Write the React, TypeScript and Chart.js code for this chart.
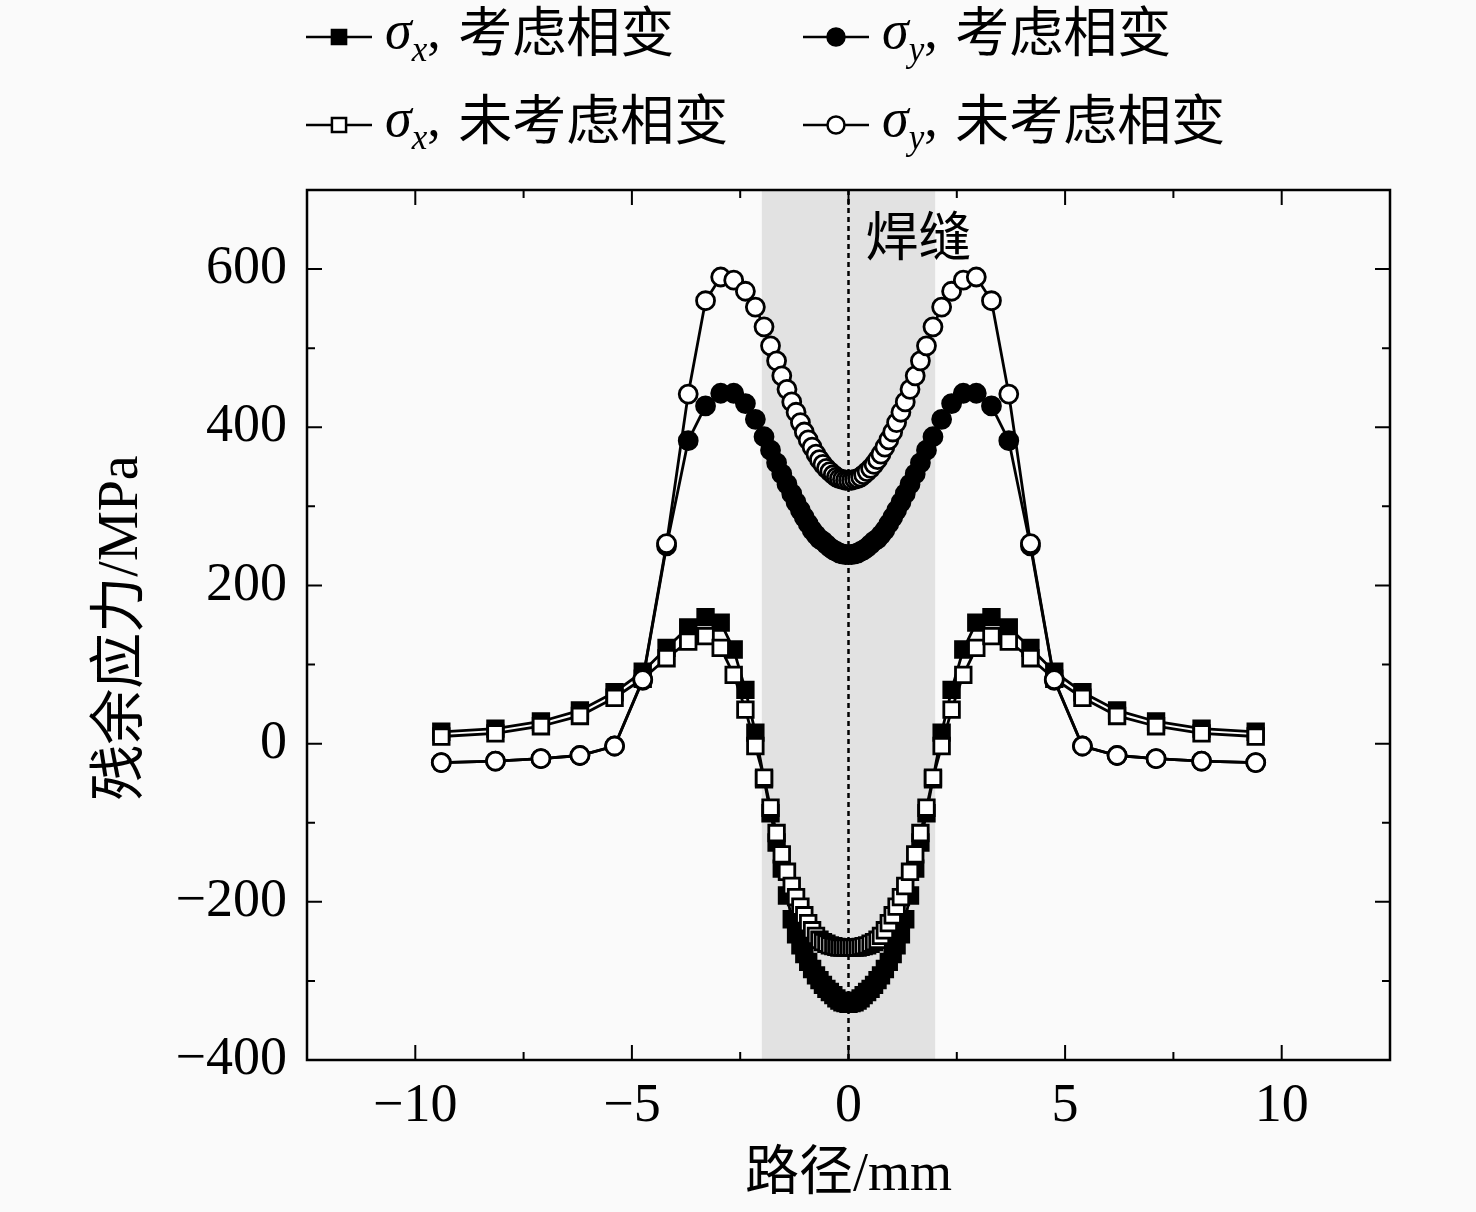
import { useEffect, useRef } from 'react';
import { Chart, registerables } from 'chart.js';

Chart.register(...registerables);

// ---- data ----
const pathMm = [
  -9.4, -8.15, -7.1, -6.2, -5.4, -4.75, -4.2, -3.7, -3.3, -2.95, -2.65, -2.38, -2.15, -1.95, -1.8, -1.66, -1.54,
  -1.42, -1.31, -1.21, -1.11, -1.02, -0.93, -0.84, -0.75, -0.67, -0.59, -0.51, -0.43, -0.35, -0.28, -0.21, -0.14,
  -0.07, 0, 0.07, 0.14, 0.21, 0.28, 0.35, 0.43, 0.51, 0.59, 0.67, 0.75, 0.84, 0.93, 1.02, 1.11, 1.21, 1.31, 1.42,
  1.54, 1.66, 1.8, 1.95, 2.15, 2.38, 2.65, 2.95, 3.3, 3.7, 4.2, 4.75, 5.4, 6.2, 7.1, 8.15, 9.4,
];

const sigmaXWithPT = [
  15, 19, 28, 42, 65, 91, 121, 147, 160, 153, 119, 68, 14, -45, -88, -125, -158,
  -192, -222, -241, -255, -266, -276, -285, -293, -299, -305, -310, -314, -318, -322, -325, -327,
  -328, -329, -328, -327, -325, -322, -318, -314, -310, -305, -299, -293, -285, -276, -266, -255, -241, -222, -192,
  -158, -125, -88, -45, 14, 68, 119, 153, 160, 147, 121, 91, 65, 42, 28, 19, 15,
];

const sigmaYWithPT = [
  -24, -22, -19, -15, -3, 80, 250, 383, 427, 443, 443, 430, 410, 388, 371, 355, 341,
  328, 316, 305, 295, 286, 278, 270, 264, 259, 256, 252, 248, 245, 243, 241, 240,
  239, 239, 239, 240, 241, 243, 245, 248, 252, 256, 259, 264, 270, 278, 286, 295, 305, 316, 328,
  341, 355, 371, 388, 410, 430, 443, 443, 427, 383, 250, 80, -3, -15, -19, -22, -24,
];

const sigmaXNoPT = [
  9, 13, 22, 35, 58, 82, 108, 129, 136, 121, 87, 43, -3, -43, -81, -113, -140,
  -162, -180, -194, -206, -217, -227, -236, -243, -248, -251, -253, -255, -256, -257, -258, -258,
  -258, -258, -258, -258, -258, -257, -256, -255, -253, -251, -248, -243, -236, -227, -217, -206, -194, -180, -162,
  -140, -113, -81, -43, -3, 43, 87, 121, 136, 129, 108, 82, 58, 35, 22, 13, 9,
];

const sigmaYNoPT = [
  -24, -22, -19, -15, -3, 81, 253, 442, 560, 590, 586, 572, 552, 527, 503, 484, 465,
  448, 432, 419, 406, 394, 384, 375, 366, 359, 353, 348, 344, 340, 337, 335, 334,
  333, 333, 333, 334, 335, 337, 340, 344, 348, 353, 359, 366, 375, 384, 394, 406, 419, 432, 448,
  465, 484, 503, 527, 552, 572, 586, 590, 560, 442, 253, 81, -3, -15, -19, -22, -24,
];

const xTickValues = [-10, -5, 0, 5, 10];
const xMinorTickValues = [-7.5, -2.5, 2.5, 7.5];
const yTickValues = [-400, -200, 0, 200, 400, 600];
const yMinorTickValues = [-300, -100, 100, 300, 500];
const weldZone = [-2, 2];
const weldCenter = 0;
const weldLabel = '焊缝';
const xTitle = '路径/mm';
const yTitle = '残余应力/MPa';

const seriesSub = ['x', 'y', 'x', 'y'];
const seriesText = ['考虑相变', '考虑相变', '未考虑相变', '未考虑相变'];

// ---- styles / layout ----
const W = 1476;
const H = 1212;
const SERIF = '"Liberation Serif", "Times New Roman", "Noto Sans CJK SC", serif';
const CJK = '"Noto Sans CJK SC", "Liberation Serif", sans-serif';
const SQ_R = 11;
const CI_R = 9;
const LINE_W = 2.8;

const toPoints = (ys: number[]) => pathMm.map((x, i) => ({ x, y: ys[i] }));
const fmt = (v: number) => String(v).replace('-', '\u2212');

function drawMarker(ctx: CanvasRenderingContext2D, cx: number, cy: number, style: string, filled: boolean) {
  ctx.save();
  ctx.lineWidth = 2.5;
  ctx.strokeStyle = '#000';
  ctx.fillStyle = filled ? '#000' : '#fff';
  ctx.beginPath();
  if (style === 'rect') {
    const s = Math.SQRT1_2 * 10;
    ctx.rect(cx - s, cy - s, 2 * s, 2 * s);
  } else {
    ctx.arc(cx, cy, 8.5, 0, Math.PI * 2);
  }
  ctx.fill();
  ctx.stroke();
  ctx.restore();
}

const decorPlugin = {
  id: 'decor',
  beforeDraw(chart: any) {
    const { ctx } = chart;
    ctx.save();
    ctx.fillStyle = '#fafafa';
    ctx.fillRect(0, 0, chart.width, chart.height);
    ctx.restore();
  },
  beforeDatasetsDraw(chart: any) {
    const { ctx, chartArea: a, scales } = chart;
    const x = scales.x;
    ctx.save();
    const x0 = x.getPixelForValue(weldZone[0]);
    const x1 = x.getPixelForValue(weldZone[1]);
    ctx.fillStyle = '#e2e2e2';
    ctx.fillRect(x0, a.top, x1 - x0, a.bottom - a.top);
    const xc = x.getPixelForValue(weldCenter);
    ctx.setLineDash([5, 4]);
    ctx.lineWidth = 2.5;
    ctx.strokeStyle = '#000';
    ctx.beginPath();
    ctx.moveTo(xc, a.top);
    ctx.lineTo(xc, a.bottom);
    ctx.stroke();
    ctx.setLineDash([]);
    ctx.fillStyle = '#000';
    ctx.font = `53px ${CJK}`;
    ctx.textAlign = 'left';
    ctx.textBaseline = 'middle';
    ctx.fillText(weldLabel, xc + 17, a.top + 46);
    ctx.restore();
  },
  afterDraw(chart: any) {
    const { ctx, chartArea: a, scales } = chart;
    const x = scales.x;
    const y = scales.y;
    ctx.save();
    ctx.strokeStyle = '#000';
    ctx.lineWidth = 2.5;
    ctx.strokeRect(a.left, a.top, a.right - a.left, a.bottom - a.top);
    ctx.lineWidth = 2;
    const vt = (v: number, len: number) => {
      const px = x.getPixelForValue(v);
      ctx.beginPath();
      ctx.moveTo(px, a.bottom);
      ctx.lineTo(px, a.bottom - len);
      ctx.moveTo(px, a.top);
      ctx.lineTo(px, a.top + len);
      ctx.stroke();
    };
    const ht = (v: number, len: number) => {
      const py = y.getPixelForValue(v);
      ctx.beginPath();
      ctx.moveTo(a.left, py);
      ctx.lineTo(a.left + len, py);
      ctx.moveTo(a.right, py);
      ctx.lineTo(a.right - len, py);
      ctx.stroke();
    };
    xTickValues.forEach((v) => vt(v, 15));
    xMinorTickValues.forEach((v) => vt(v, 8));
    yTickValues.forEach((v) => ht(v, 15));
    yMinorTickValues.forEach((v) => ht(v, 8));

    // axis titles
    ctx.fillStyle = '#000';
    ctx.font = `54px ${SERIF}`;
    ctx.textAlign = 'center';
    ctx.textBaseline = 'middle';
    ctx.fillText(xTitle, (a.left + a.right) / 2, 1176);
    ctx.save();
    ctx.translate(122, 628);
    ctx.rotate(-Math.PI / 2);
    ctx.font = `56px ${SERIF}`;
    ctx.fillText(yTitle, 0, 0);
    ctx.restore();

    // legend
    const cols = [339, 836];
    const rows = [37, 125];
    chart.data.datasets.forEach((ds: any, i: number) => {
      const col = i % 2;
      const row = Math.floor(i / 2);
      const mx = cols[col];
      const my = rows[row];
      ctx.lineWidth = 2.5;
      ctx.strokeStyle = '#000';
      ctx.beginPath();
      ctx.moveTo(mx - 33, my);
      ctx.lineTo(mx + 33, my);
      ctx.stroke();
      drawMarker(ctx, mx, my, ds.pointStyle, ds.pointBackgroundColor === '#000');
      let tx = mx + 46;
      ctx.textAlign = 'left';
      ctx.textBaseline = 'alphabetic';
      ctx.font = `italic 54px ${SERIF}`;
      ctx.fillText('\u03c3', tx, my + 11);
      tx += ctx.measureText('\u03c3').width;
      ctx.font = `italic 35px ${SERIF}`;
      ctx.fillText(seriesSub[i], tx, my + 24);
      tx += ctx.measureText(seriesSub[i]).width;
      ctx.font = `54px ${SERIF}`;
      ctx.fillText(',', tx, my + 11);
      tx += ctx.measureText(', ').width;
      ctx.font = `54px ${CJK}`;
      ctx.textBaseline = 'middle';
      ctx.fillText(seriesText[i], tx + 4, my - 6);
    });
    ctx.restore();
  },
};

export default function App() {
  const ref = useRef<HTMLCanvasElement | null>(null);
  useEffect(() => {
    document.body.style.margin = '0';
    const canvas = ref.current;
    if (!canvas) return;
    const mk = (ys: number[], style: string, filled: boolean, order: number) => ({
      data: toPoints(ys),
      showLine: true,
      borderColor: '#000',
      borderWidth: LINE_W,
      pointStyle: style,
      pointRadius: style === 'rect' ? SQ_R : CI_R,
      pointBackgroundColor: filled ? '#000' : '#fff',
      pointBorderColor: '#000',
      pointBorderWidth: 2.8,
      order,
    });
    const chart = new Chart(canvas, {
      type: 'scatter',
      data: {
        datasets: [
          { label: `σx, ${seriesText[0]}`, ...mk(sigmaXWithPT, 'rect', true, 4) },
          { label: `σy, ${seriesText[1]}`, ...mk(sigmaYWithPT, 'circle', true, 2) },
          { label: `σx, ${seriesText[2]}`, ...mk(sigmaXNoPT, 'rect', false, 3) },
          { label: `σy, ${seriesText[3]}`, ...mk(sigmaYNoPT, 'circle', false, 1) },
        ] as any,
      },
      options: {
        animation: false,
        responsive: true,
        maintainAspectRatio: false,
        devicePixelRatio: 1,
        layout: { padding: { top: 190, right: 86, left: 0, bottom: 0 } },
        plugins: { legend: { display: false }, tooltip: { enabled: false } },
        scales: {
          x: {
            type: 'linear',
            min: -12.5,
            max: 12.5,
            grid: { display: false, drawTicks: false },
            border: { display: false },
            afterBuildTicks: (s: any) => {
              s.ticks = xTickValues.map((value) => ({ value }));
            },
            afterFit: (s: any) => {
              s.height = 152;
            },
            ticks: {
              padding: 14,
              color: '#000',
              font: { family: SERIF, size: 54 },
              callback: (v: any) => fmt(Number(v)),
            },
          },
          y: {
            type: 'linear',
            min: -400,
            max: 700,
            grid: { display: false, drawTicks: false },
            border: { display: false },
            afterBuildTicks: (s: any) => {
              s.ticks = yTickValues.map((value) => ({ value }));
            },
            afterFit: (s: any) => {
              s.width = 307;
            },
            ticks: {
              padding: 20,
              color: '#000',
              font: { family: SERIF, size: 54 },
              callback: (v: any) => fmt(Number(v)),
            },
          },
        },
      },
      plugins: [decorPlugin],
    });
    return () => chart.destroy();
  }, []);
  return (
    <div style={{ width: W, height: H, position: 'relative' }}>
      <canvas ref={ref} />
    </div>
  );
}
